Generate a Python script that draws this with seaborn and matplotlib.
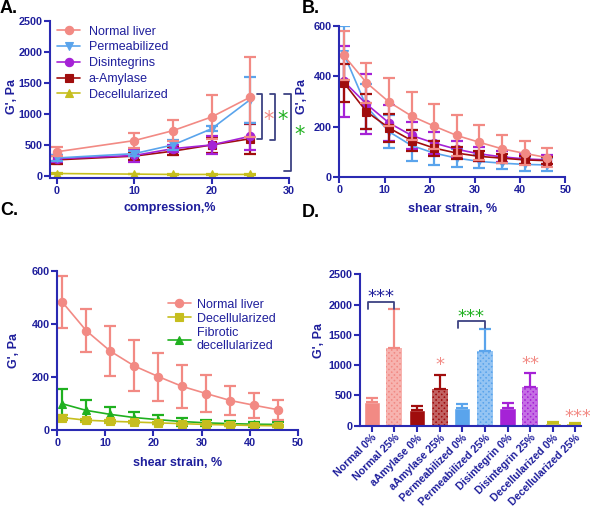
import numpy as np
import pandas as pd
import matplotlib
matplotlib.use("Agg")
import matplotlib.pyplot as plt
import seaborn as sns
from matplotlib.colors import to_rgb

sns.set_theme(style="white")
plt.rcParams['font.family'] = ['Liberation Sans', 'DejaVu Sans']
plt.rcParams['hatch.linewidth'] = 1.6

# ---------------- data ----------------
# Panel A (compression)
xA = [0, 10, 15, 20, 25]
normal_A = [390, 570, 730, 950, 1270]
normal_A_err = [70, 120, 170, 350, 650]
perm_A = [290, 360, 500, 760, 1230]
perm_A_err = [50, 40, 80, 40, 370]
disint_A = [280, 330, 440, 500, 640]
disint_A_err = [50, 100, 60, 150, 220]
amyl_A = [260, 320, 400, 500, 600]
amyl_A_err = [60, 60, 70, 130, 240]
decel_A = [40, 30, 25, 25, 25]
decel_A_err = [10, 5, 5, 5, 5]

# Panel B/C (shear strain)
xB = [1, 6, 11, 16, 21, 26, 31, 36, 41, 46]
normal_B = [483, 375, 298, 242, 202, 165, 138, 112, 94, 77]
normal_B_err = [97, 80, 95, 96, 90, 80, 69, 55, 48, 38]
perm_B = [490, 280, 180, 125, 95, 75, 62, 55, 50, 48]
perm_B_err = [110, 90, 65, 60, 47, 35, 27, 25, 25, 26]
disint_B = [380, 290, 215, 165, 135, 110, 92, 80, 72, 68]
disint_B_err = [140, 120, 70, 55, 45, 35, 28, 22, 20, 18]
amyl_B = [375, 260, 195, 145, 115, 95, 82, 75, 68, 65]
amyl_B_err = [75, 70, 55, 40, 30, 25, 20, 18, 16, 15]
decel_C = [48, 38, 34, 31, 28, 25, 22, 20, 18, 17]
decel_C_err = [8, 6, 5, 5, 4, 4, 3, 3, 3, 3]
fibro_C = [100, 75, 60, 48, 40, 33, 28, 25, 23, 22]
fibro_C_err = [55, 38, 28, 22, 18, 15, 12, 10, 9, 8]

# Panel D (bars)
cats_D = ["Normal 0%", "Normal 25%", "aAmylase 0%", "aAmylase 25%",
          "Permeabilized 0%", "Permeabilized 25%", "Disintegrin 0%",
          "Disintegrin 25%", "Decellularized 0%", "Decellularized 25%"]
vals_D = [390, 1280, 265, 610, 290, 1240, 295, 640, 50, 35]
errs_D = [70, 640, 65, 230, 70, 360, 80, 230, 10, 8]

# ---------------- style ----------------
AX = '#2a2ab2'
TXT = '#1f1f9c'
PINK = '#f28a84'
LBLUE = '#5aa4ec'
PURPLE = '#a522d6'
DRED = '#a00d0d'
OLIVE = '#c6be1e'
GREEN = '#1fb01f'
BRK = '#3d4282'

fig = plt.figure(figsize=(5.9, 5.11), dpi=100)

def style_ax(ax):
    sns.despine(ax=ax)
    for s in ['left', 'bottom']:
        ax.spines[s].set_color(AX)
        ax.spines[s].set_linewidth(1.5)
    ax.tick_params(axis='both', colors=AX, width=1.5, length=4, direction='out',
                   labelsize=7.8, labelcolor=TXT, pad=1.5, left=True, bottom=True)
    for lab in ax.get_xticklabels() + ax.get_yticklabels():
        lab.set_fontweight('bold')
    ax.grid(False)
    ax.set_facecolor('none')

def series(ax, x, y, err, color, marker, label, ms=6):
    sns.lineplot(x=x, y=y, ax=ax, color=color, marker=marker, markersize=ms,
                 markeredgecolor=color, markeredgewidth=0.8, linewidth=1.2,
                 label=label, legend=False)
    ax.errorbar(x, y, yerr=err, fmt='none', ecolor=color, elinewidth=1.6,
                capsize=4.5, capthick=1.6)

LAB = dict(fontsize=9, fontweight='bold', color=TXT)

# ---------------- Panel A ----------------
axA = fig.add_axes([0.0847, 0.6517, 0.405, 0.3078])
series(axA, xA, decel_A, decel_A_err, OLIVE, '^', 'Decellularized')
series(axA, xA, amyl_A, amyl_A_err, DRED, 's', 'a-Amylase')
series(axA, xA, disint_A, disint_A_err, PURPLE, 'o', 'Disintegrins')
series(axA, xA, perm_A, perm_A_err, LBLUE, 'v', 'Permeabilized')
series(axA, xA, normal_A, normal_A_err, PINK, 'o', 'Normal liver')
axA.set_xlim(-0.9, 30)
axA.set_ylim(-32, 2500)
axA.set_xticks([0, 10, 20, 30])
axA.set_yticks([0, 500, 1000, 1500, 2000, 2500])
style_ax(axA)
axA.set_xlabel('compression,%', **LAB)
axA.set_ylabel("G', Pa", **LAB)
axA.xaxis.set_label_coords(0.5, -0.155)
axA.yaxis.set_label_coords(-0.135, 0.515)
h, l = axA.get_legend_handles_labels()
order = ['Normal liver', 'Permeabilized', 'Disintegrins', 'a-Amylase', 'Decellularized']
hd = dict(zip(l, h))
axA.legend([hd[k] for k in order], order, loc='upper left', frameon=False,
           bbox_to_anchor=(0.01, 1.0), fontsize=9, labelcolor=TXT,
           handlelength=1.8, handletextpad=0.7, labelspacing=0.3, borderaxespad=0)

# brackets and stars in A
def bracket_v(ax, x, y0, y1, xt):
    ax.plot([xt, x, x, xt], [y1, y1, y0, y0], color=BRK, lw=1.3, clip_on=False)

bracket_v(axA, 26.55, 590, 1320, 25.85)
bracket_v(axA, 28.2, 580, 1320, 27.55)
bracket_v(axA, 30.3, 85, 1320, 29.4)
axA.text(27.4, 900, '*', color=PINK, fontsize=15, ha='center', va='center',
         family='DejaVu Sans', clip_on=False)
axA.text(29.2, 900, '*', color=GREEN, fontsize=15, ha='center', va='center',
         family='DejaVu Sans', clip_on=False)
axA.text(31.4, 660, '*', color=GREEN, fontsize=15, ha='center', va='center',
         family='DejaVu Sans', clip_on=False)

# ---------------- Panel B ----------------
axB = fig.add_axes([0.5751, 0.6536, 0.383, 0.2955])
series(axB, xB, perm_B, perm_B_err, LBLUE, 'v', 'Permeabilized')
series(axB, xB, disint_B, disint_B_err, PURPLE, 'o', 'Disintegrins')
series(axB, xB, amyl_B, amyl_B_err, DRED, 's', 'a-Amylase')
series(axB, xB, normal_B, normal_B_err, PINK, 'o', 'Normal liver')
axB.set_xlim(0, 50)
axB.set_ylim(0, 600)
axB.set_xticks([0, 10, 20, 30, 40, 50])
axB.set_yticks([0, 200, 400, 600])
style_ax(axB)
axB.set_xlabel('shear strain, %', **LAB)
axB.set_ylabel("G', Pa", **LAB)
axB.xaxis.set_label_coords(0.5, -0.17)
axB.yaxis.set_label_coords(-0.14, 0.53)

# ---------------- Panel C ----------------
axC = fig.add_axes([0.0971, 0.1579, 0.4075, 0.3123])
series(axC, xB, fibro_C, fibro_C_err, GREEN, '^', 'Fibrotic\ndecellularized')
series(axC, xB, decel_C, decel_C_err, OLIVE, 's', 'Decellularized')
series(axC, xB, normal_B, normal_B_err, PINK, 'o', 'Normal liver')
axC.set_xlim(0, 50)
axC.set_ylim(0, 600)
axC.set_xticks([0, 10, 20, 30, 40, 50])
axC.set_yticks([0, 200, 400, 600])
style_ax(axC)
axC.set_xlabel('shear strain, %', **LAB)
axC.set_ylabel("G', Pa", **LAB)
axC.xaxis.set_label_coords(0.5, -0.165)
axC.yaxis.set_label_coords(-0.155, 0.503)
h, l = axC.get_legend_handles_labels()
hd = dict(zip(l, h))
orderC = ['Normal liver', 'Decellularized', 'Fibrotic\ndecellularized']
axC.legend([hd[k] for k in orderC], orderC, loc='upper left', frameon=False,
           bbox_to_anchor=(0.44, 0.855), fontsize=9, labelcolor=TXT,
           handlelength=1.8, handletextpad=0.5, labelspacing=0.15, borderaxespad=0)

# ---------------- Panel D ----------------
axD = fig.add_axes([0.6102, 0.1669, 0.3746, 0.2963])
colors_D = [PINK, PINK, DRED, DRED, LBLUE, LBLUE, PURPLE, PURPLE, OLIVE, OLIVE]
dfD = pd.DataFrame({'cat': cats_D, 'val': vals_D})
sns.barplot(data=dfD, x='cat', y='val', hue='cat', palette=colors_D, legend=False,
            width=0.71, saturation=1, ax=axD, errorbar=None)
for i, p in enumerate(axD.patches):
    if i % 2 == 1:
        c = np.array(to_rgb(colors_D[i]))
        light = c + (1 - c) * 0.35
        p.set_hatch('xxxxxx')
        p.set_edgecolor(light)
        p.set_linewidth(0)
for i in range(len(cats_D)):
    axD.errorbar([i], [vals_D[i]], yerr=[[0], [errs_D[i]]], fmt='none',
                 ecolor=colors_D[i], elinewidth=1.6, capsize=4.5, capthick=1.6)
axD.set_xlim(-0.52, 9.25)
axD.set_ylim(0, 2500)
axD.set_yticks([0, 500, 1000, 1500, 2000, 2500])
style_ax(axD)
axD.set_xlabel('')
axD.set_ylabel("G', Pa", **LAB)
axD.yaxis.set_label_coords(-0.16, 0.566)
axD.set_xticks(range(len(cats_D)))
axD.set_xticklabels(cats_D, rotation=45, ha='right', rotation_mode='anchor',
                    fontsize=7.7, fontweight='bold', color=TXT)
axD.tick_params(axis='x', pad=1)

def bracket_h(ax, x0, x1, y, yt, color):
    ax.plot([x0, x0, x1, x1], [yt, y, y, yt], color=color, lw=1.3, clip_on=False)

bracket_h(axD, -0.15, 1.0, 2040, 1925, BRK)
axD.text(0.42, 2120, '***', color=TXT, fontsize=13, ha='center', va='center',
         family='DejaVu Sans')
bracket_h(axD, 3.8, 5.0, 1730, 1613, BRK)
axD.text(4.4, 1800, '***', color=GREEN, fontsize=13, ha='center', va='center',
         family='DejaVu Sans')
axD.text(3, 1000, '*', color=PINK, fontsize=13, ha='center', va='center',
         family='DejaVu Sans')
axD.text(7, 1020, '**', color=PINK, fontsize=13, ha='center', va='center',
         family='DejaVu Sans')
axD.text(9.1, 140, '***', color=PINK, fontsize=13, ha='center', va='center',
         family='DejaVu Sans', clip_on=False)

# panel letters
for txt, x, y in [('A.', 0.0, 1.0), ('B.', 0.512, 1.0), ('C.', 0.0, 0.605), ('D.', 0.512, 0.6)]:
    fig.text(x, y, txt, fontsize=13, fontweight='bold', color='black', ha='left', va='top')

fig.savefig('out.png', dpi=100)
